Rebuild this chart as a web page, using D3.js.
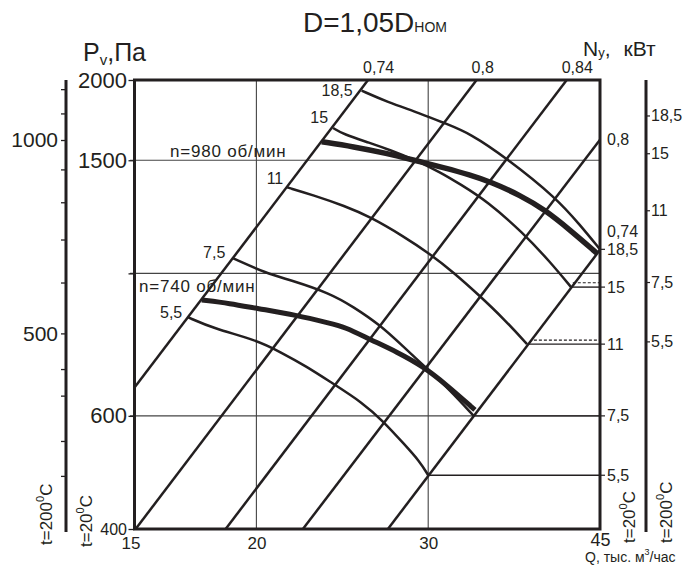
<!DOCTYPE html>
<html>
<head>
<meta charset="utf-8">
<script src="https://cdn.jsdelivr.net/npm/d3@7"></script>
<style>
  body { margin: 0; background: #fff; }
  svg text { font-family: Arial, "Liberation Sans", sans-serif; fill: #231f20; }
</style>
</head>
<body>
<svg id="chart" width="685" height="567"></svg>
<script>
// axes (t = 20°C)
const qDomain = [15, 45];
const pDomain = [400, 2000];
const qTicks = [15, 20, 30, 45];
const qGrid = [20, 30];
const pTicks = [2000, 1500, 1000, 600, 400];
const pTickLabels = ['2000', '1500', '', '600', '400'];
const pGrid = [1500, 1000, 600];

// second pressure scale for t = 200°C
const densityRatio = 0.62;
const p200Ticks = [1200, 1100, 1000, 900, 800, 700, 600, 500, 440, 400, 340, 300];
const p200Labels = { 1000: '1000', 500: '500' };

// iso-efficiency lines (P ~ Q^2), ends as [Q, P]
const effNames = ['0,74', '0,8', '0,84', '0,8', '0,74'];
const effSides = ['top', 'top', 'top', 'right', 'right'];
const effEnds = [
  [[15, 664], [26.03, 2000]],
  [[15.04, 400], [33.63, 2000]],
  [[18.6, 400], [41.6, 2000]],
  [[22.32, 400], [45, 1615]],
  [[27.28, 400], [45, 1088]]
];

// power curves Ny, kW
const powerNames = ['18,5', '15', '11', '7,5', '5,5'];
const power185 = [[25.64, 1925], [27.2, 1850], [29.43, 1775], [31.22, 1712], [33.11, 1652], [36.11, 1511], [40.63, 1309], [42.93, 1189], [45, 1090]];
const power15 = [[23.97, 1684], [24.53, 1648], [26.15, 1596], [27.42, 1556], [29.08, 1501], [30.85, 1438], [32.34, 1377], [34.46, 1296], [37.53, 1156], [40.0, 1042], [42.03, 952]];
const power11 = [[21.51, 1361], [22.86, 1324], [24.65, 1273], [26.15, 1225], [28.28, 1143], [30.13, 1072], [31.81, 1005], [33.9, 922], [35.96, 846], [37.88, 776]];
const power75 = [[18.94, 1055], [20.49, 1000], [21.65, 977], [23.8, 931], [25.14, 887], [26.78, 831], [28.29, 769], [29.9, 711], [31.59, 658], [33.4, 600]];
const power55 = [[17.03, 854], [18.07, 821], [20.01, 787], [21.14, 755], [22.52, 716], [23.8, 678], [25.74, 628], [26.99, 588], [28.29, 544], [29.43, 509], [30.0, 485]];
const powerCurves = [power185, power15, power11, power75, power55];

// dashed marks next to 15 and 11
const dashed15 = [[42.2, 967], [45, 967]];
const dashed11 = [[38.5, 787], [45, 787]];

// fan curves
const n980 = [[23.33, 1603], [25.14, 1575], [27.2, 1538], [29.08, 1499], [31.22, 1459], [33.11, 1423], [34.71, 1389], [37.26, 1324], [39.53, 1255], [41.93, 1168], [44.7, 1074]];
const n740 = [[17.58, 909], [18.79, 898], [20.01, 882], [21.99, 861], [23.8, 836], [24.65, 825], [26.15, 789], [27.85, 755], [29.66, 716], [31.34, 670], [33.5, 613]];

const ink = '#231f20';
const svg = d3.select('#chart');

const x = d3.scaleLog().domain(qDomain).range([134.5, 600]);
const y = d3.scaleLog().domain(pDomain).range([529, 80]);
const y200 = d3.scaleLog().domain(pDomain.map(p => p * densityRatio)).range([529, 80]);

const straight = d3.line().x(d => x(d[0])).y(d => y(d[1]));
const smooth = d3.line().x(d => x(d[0])).y(d => y(d[1])).curve(d3.curveBasis);

// grid
svg.append('g').selectAll('line').data(pGrid).join('line')
  .attr('x1', 130).attr('x2', 600)
  .attr('y1', d => y(d)).attr('y2', d => y(d))
  .attr('stroke', '#444').attr('stroke-width', 1.1);
svg.append('g').selectAll('line').data(qGrid).join('line')
  .attr('x1', d => x(d)).attr('x2', d => x(d))
  .attr('y1', 80).attr('y2', 529)
  .attr('stroke', '#444').attr('stroke-width', 1.1);

// horizontal stubs from curve ends to the right edge
const ends = powerCurves.map(c => c[c.length - 1]);
svg.append('g').selectAll('path').data(ends.slice(1)).join('path')
  .attr('d', d => straight([d, [qDomain[1], d[1]]]))
  .attr('stroke', ink).attr('stroke-width', 1.4).attr('fill', 'none');
svg.append('g').selectAll('path').data([dashed15, dashed11]).join('path')
  .attr('d', straight)
  .attr('stroke', ink).attr('stroke-width', 1.2).attr('stroke-dasharray', '3,2').attr('fill', 'none');

// efficiency lines
svg.append('g').selectAll('path').data(effEnds).join('path')
  .attr('d', straight)
  .attr('stroke', ink).attr('stroke-width', 2.5).attr('fill', 'none');

// power curves
svg.append('g').selectAll('path').data(powerCurves).join('path')
  .attr('d', smooth)
  .attr('stroke', ink).attr('stroke-width', 2.5).attr('fill', 'none')
  .attr('stroke-linejoin', 'round');

// fan curves (thick)
svg.append('g').selectAll('path').data([n980, n740]).join('path')
  .attr('d', smooth)
  .attr('stroke', ink).attr('stroke-width', (d, i) => i === 0 ? 5.5 : 5)
  .attr('fill', 'none');

// frame
svg.append('rect')
  .attr('x', x(qDomain[0])).attr('y', y(pDomain[1]))
  .attr('width', x(qDomain[1]) - x(qDomain[0])).attr('height', y(pDomain[0]) - y(pDomain[1]))
  .attr('fill', 'none').attr('stroke', ink).attr('stroke-width', 3);

// left axis t=20
const axL = svg.append('g').attr('transform', `translate(${x(qDomain[0])},0)`)
  .call(d3.axisLeft(y).tickValues(pTicks).tickSize(6).tickPadding(1.5)
    .tickFormat((d, i) => pTickLabels[i]));
axL.select('.domain').remove();
axL.selectAll('.tick line').attr('stroke', ink).attr('stroke-width', 1.3);
axL.selectAll('.tick text').attr('fill', ink)
  .style('font-size', d => d === 400 ? '16px' : '22px');

// left axis t=200
svg.append('line').attr('x1', 66).attr('x2', 66).attr('y1', 80).attr('y2', 532)
  .attr('stroke', ink).attr('stroke-width', 3);
const axL2 = svg.append('g').attr('transform', 'translate(66,0)')
  .call(d3.axisLeft(y200).tickValues(p200Ticks).tickSize(5).tickPadding(3)
    .tickFormat(d => p200Labels[d] || ''));
axL2.select('.domain').remove();
axL2.selectAll('.tick line').attr('stroke', ink).attr('stroke-width', 1.3);
axL2.selectAll('.tick text').attr('fill', ink).style('font-size', '21px');

// bottom axis
const axB = svg.append('g').attr('transform', `translate(0,${y(pDomain[0])})`)
  .call(d3.axisBottom(x).tickValues(qTicks).tickSize(0).tickPadding(8).tickFormat(d3.format('d')));
axB.select('.domain').remove();
axB.selectAll('.tick text').attr('fill', ink)
  .style('font-size', d => d === 45 ? '18px' : '17px')
  .attr('dx', d => d === 15 ? -4 : 0)
  .attr('y', d => d === 45 ? 4 : 8);

// efficiency labels
effEnds.forEach((e, i) => {
  const end = e[1];
  if (effSides[i] === 'top') {
    svg.append('text').attr('x', x(end[0]) - 5).attr('y', y(end[1]) - 7)
      .style('font-size', '16px').text(effNames[i]);
  } else {
    svg.append('text').attr('x', 607).attr('y', y(end[1]) - (effNames[i] === '0,74' ? 18 : 0))
      .attr('dominant-baseline', 'central')
      .style('font-size', '16px').text(effNames[i]);
  }
});

// power labels at curve starts
const labelShift = { '18,5': [-9, 0], '15': [-5, -10], '11': [-4, -9], '7,5': [-8, -6], '5,5': [-6, -5] };
powerCurves.forEach((c, i) => {
  const s = c[0], sh = labelShift[powerNames[i]];
  svg.append('text').attr('x', x(s[0]) + sh[0]).attr('y', y(s[1]) + sh[1])
    .attr('text-anchor', 'end').attr('dominant-baseline', 'central')
    .style('font-size', '16px').text(powerNames[i]);
});

// right labels, t=20
svg.append('g').selectAll('line').data(ends).join('line')
  .attr('x1', 600).attr('x2', 605).attr('y1', d => y(d[1])).attr('y2', d => y(d[1]))
  .attr('stroke', ink).attr('stroke-width', 1.2);
svg.append('g').selectAll('text').data(ends).join('text')
  .attr('x', 607).attr('y', d => y(d[1])).attr('dominant-baseline', 'central')
  .style('font-size', '16px').text((d, i) => powerNames[i]);

// right axis, t=200
svg.append('line').attr('x1', 646).attr('x2', 646).attr('y1', 80).attr('y2', 532)
  .attr('stroke', ink).attr('stroke-width', 3);
svg.append('g').selectAll('line').data(ends).join('line')
  .attr('x1', 646).attr('x2', 650).attr('y1', d => y200(d[1])).attr('y2', d => y200(d[1]))
  .attr('stroke', ink).attr('stroke-width', 1.2);
svg.append('g').selectAll('text').data(ends).join('text')
  .attr('x', 651).attr('y', d => y200(d[1])).attr('dominant-baseline', 'central')
  .style('font-size', '16px').text((d, i) => powerNames[i]);

// speed labels
svg.append('text').attr('x', 170).attr('y', 157).style('font-size', '17px')
  .style('letter-spacing', '0.8px').text('n=980 об/мин');
svg.append('text').attr('x', 139).attr('y', 292).style('font-size', '17px')
  .style('letter-spacing', '0.8px').text('n=740 об/мин');

// title
const title = svg.append('text').attr('x', 303).attr('y', 32).style('font-size', '28px');
title.append('tspan').text('D=1,05D');
title.append('tspan').style('font-size', '14px').text('НОМ');

// axis titles
const pv = svg.append('text').attr('x', 83).attr('y', 61).style('font-size', '25px');
pv.append('tspan').text('P');
pv.append('tspan').attr('dy', 4).style('font-size', '15px').text('v');
pv.append('tspan').attr('dy', -4).text(',Па');

const ny = svg.append('text').attr('x', 583).attr('y', 56).style('font-size', '21px');
ny.append('tspan').text('N');
ny.append('tspan').attr('dy', 1).style('font-size', '13px').text('у');
ny.append('tspan').attr('dy', -1).text(',');
ny.append('tspan').attr('dx', 13).text('кВт');

const ql = svg.append('text').attr('x', 585).attr('y', 562).style('font-size', '14px');
ql.append('tspan').text('Q, тыс. м');
ql.append('tspan').attr('dy', -7).style('font-size', '9px').text('3');
ql.append('tspan').attr('dy', 7).text('/час');

// temperature labels (rotated)
function tempLabel(tx, ty, t) {
  const g = svg.append('text').attr('transform', `translate(${tx},${ty}) rotate(-90)`)
    .style('font-size', '17px');
  g.append('tspan').text('t=' + t);
  g.append('tspan').attr('dy', -8).style('font-size', '11px').text('0');
  g.append('tspan').attr('dy', 8).text('C');
}
tempLabel(52, 545, 200);
tempLabel(92, 547, 20);
tempLabel(635, 543, 20);
tempLabel(672, 543, 200);
</script>
</body>
</html>
